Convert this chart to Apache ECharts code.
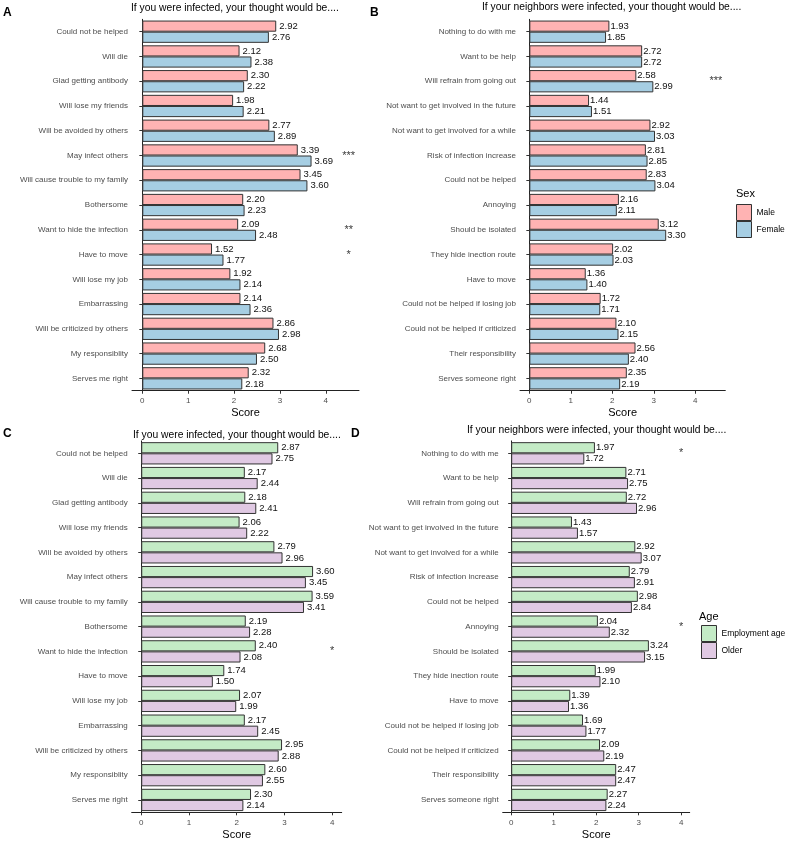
<!DOCTYPE html>
<html><head><meta charset="utf-8">
<script src="https://cdn.jsdelivr.net/npm/echarts@6/dist/echarts.min.js"></script>
<style>html,body{margin:0;padding:0;background:#fff}#c{width:786px;height:843px}</style>
</head><body><div id="c"></div>
<script>
const catsSelf = ['Could not be helped','Will die','Glad getting antibody','Will lose my friends','Will be avoided by others','May infect others','Will cause trouble to my family','Bothersome','Want to hide the infection','Have to move','Will lose my job','Embarrassing','Will be criticized by others','My responsiblity','Serves me right'];
const catsNeigh = ['Nothing to do with me','Want to be help','Will refrain from going out','Not want to get involved in the future','Not want to get involved for a while','Risk of infection increase','Could not be helped','Annoying','Should be isolated','They hide inection route','Have to move','Could not be helped if losing job','Could not be helped if criticized','Their responsibility','Serves someone right'];

const maleA   = [2.92,2.12,2.30,1.98,2.77,3.39,3.45,2.20,2.09,1.52,1.92,2.14,2.86,2.68,2.32];
const femaleA = [2.76,2.38,2.22,2.21,2.89,3.69,3.60,2.23,2.48,1.77,2.14,2.36,2.98,2.50,2.18];
const maleB   = [1.93,2.72,2.58,1.44,2.92,2.81,2.83,2.16,3.12,2.02,1.36,1.72,2.10,2.56,2.35];
const femaleB = [1.85,2.72,2.99,1.51,3.03,2.85,3.04,2.11,3.30,2.03,1.40,1.71,2.15,2.40,2.19];
const empC    = [2.87,2.17,2.18,2.06,2.79,3.60,3.59,2.19,2.40,1.74,2.07,2.17,2.95,2.60,2.30];
const olderC  = [2.75,2.44,2.41,2.22,2.96,3.45,3.41,2.28,2.08,1.50,1.99,2.45,2.88,2.55,2.14];
const empD    = [1.97,2.71,2.72,1.43,2.92,2.79,2.98,2.04,3.24,1.99,1.39,1.69,2.09,2.47,2.27];
const olderD  = [1.72,2.75,2.96,1.57,3.07,2.91,2.84,2.32,3.15,2.10,1.36,1.77,2.19,2.47,2.24];

const sigA = {cats:['May infect others','Want to hide the infection','Have to move'], marks:['***','**','*'], x:4.5};
const sigB = {cats:['Will refrain from going out'], marks:['***'], x:4.5};
const sigC = {cats:['Want to hide the infection'], marks:['*'], x:4};
const sigD = {cats:['Nothing to do with me','Annoying'], marks:['*','*'], x:4};

const xTicks = [0,1,2,3,4];
const titles = ['If you were infected, your thought would be....','If your neighbors were infected, your thought would be....'];

const FONT = 'Liberation Sans, Arial, sans-serif';
const colMale='#FFB3B3', colFemale='#A6CEE3', colEmp='#C4EBC6', colOld='#E0C9E3';
const band = 24.76, H = band*15;

const grids = [
  {left:132, top:31.7-band/2, width:227, height:H},
  {left:520, top:31.7-band/2, width:205.3, height:H},
  {left:131.7, top:453.3-band/2, width:210, height:H},
  {left:502.7, top:453.3-band/2, width:187, height:H}
];
const ranges = [[-0.225,4.725],[-0.225,4.725],[-0.2,4.2],[-0.2,4.2]];
const catList = [catsSelf, catsNeigh, catsSelf, catsNeigh];

const xAxes = grids.map((g,i)=>({
  type:'value', gridIndex:i, min:ranges[i][0], max:ranges[i][1],
  axisLine:{show:true, lineStyle:{color:'#222', width:1}},
  axisTick:{show:true, length:3, lineStyle:{color:'#333'}, customValues:xTicks},
  axisLabel:{color:'#4d4d4d', fontSize:8, fontFamily:FONT, margin:6, customValues:xTicks, formatter:v=>String(v)},
  splitLine:{show:false},
  name:'Score', nameLocation:'middle', nameGap:17,
  nameTextStyle:{color:'#000', fontSize:11, fontFamily:FONT}
}));
const yAxes = grids.map((g,i)=>({
  type:'category', gridIndex:i, data:catList[i], inverse:true,
  axisLine:{show:true, lineStyle:{color:'#222', width:1}},
  axisTick:{show:true, length:3, alignWithLabel:true, lineStyle:{color:'#333'}},
  axisLabel:{color:'#4d4d4d', fontSize:8, fontFamily:FONT, margin:4, interval:0}
}));

function barSeries(name, data, color, gi, dist){
  return {
    type:'bar', name, data, xAxisIndex:gi, yAxisIndex:gi,
    barGap:'0%', barCategoryGap:'10%',
    itemStyle:{color, borderColor:'#333', borderWidth:1},
    label:{show:true, position:'right', distance:dist, formatter:p=>p.value.toFixed(2),
      color:'#111', fontSize:9.5, fontFamily:FONT},
    emphasis:{disabled:true}, animation:false
  };
}
function sigSeries(sig, gi){
  return {
    type:'scatter', xAxisIndex:gi, yAxisIndex:gi, symbolSize:0,
    itemStyle:{color:'rgba(0,0,0,0)'},
    data: sig.cats.map((c,k)=>({value:[sig.x, c], mark:sig.marks[k]})),
    label:{show:true, position:'inside', formatter:p=>p.data.mark, color:'#000', fontSize:11, fontFamily:FONT},
    silent:true, animation:false
  };
}

const series = [
  barSeries('Male', maleA, colMale, 0, 3), barSeries('Female', femaleA, colFemale, 0, 3),
  barSeries('Male', maleB, colMale, 1, 1), barSeries('Female', femaleB, colFemale, 1, 1),
  barSeries('Employment age', empC, colEmp, 2, 3), barSeries('Older', olderC, colOld, 2, 3),
  barSeries('Employment age', empD, colEmp, 3, 1), barSeries('Older', olderD, colOld, 3, 1),
  sigSeries(sigA,0), sigSeries(sigB,1), sigSeries(sigC,2), sigSeries(sigD,3)
];

const titleStyle = {color:'#000', fontSize:10.3, fontWeight:'normal', fontFamily:FONT};
const letterStyle = {color:'#000', fontSize:12, fontWeight:'bold', fontFamily:FONT};

const option = {
  animation:false,
  grid: grids,
  xAxis: xAxes, yAxis: yAxes, series,
  title: [
    {text:titles[0], left:131, top:3.5, padding:0, textStyle:titleStyle},
    {text:titles[1], left:482, top:2.5, padding:0, textStyle:titleStyle},
    {text:titles[0], left:133, top:430.5, padding:0, textStyle:titleStyle},
    {text:titles[1], left:467, top:425.5, padding:0, textStyle:titleStyle},
    {text:'A', left:3, top:7, padding:0, textStyle:letterStyle},
    {text:'B', left:370, top:7, padding:0, textStyle:letterStyle},
    {text:'C', left:3, top:428, padding:0, textStyle:letterStyle},
    {text:'D', left:351, top:428, padding:0, textStyle:letterStyle},
    {text:'Sex', left:736, top:188, padding:0, textStyle:{color:'#000', fontSize:11, fontWeight:'normal', fontFamily:FONT}},
    {text:'Age', left:699, top:611, padding:0, textStyle:{color:'#000', fontSize:11, fontWeight:'normal', fontFamily:FONT}}
  ],
  legend: [
    {data:['Male','Female'], orient:'vertical', left:736, top:204, itemGap:0, itemWidth:15, itemHeight:16,
      padding:0, icon:'rect', selectedMode:false,
      itemStyle:{borderColor:'#333', borderWidth:1},
      textStyle:{color:'#000', fontSize:8.5, fontFamily:FONT}},
    {data:['Employment age','Older'], orient:'vertical', left:701, top:625, itemGap:0, itemWidth:15, itemHeight:16,
      padding:0, icon:'rect', selectedMode:false,
      itemStyle:{borderColor:'#333', borderWidth:1},
      textStyle:{color:'#000', fontSize:8.5, fontFamily:FONT}}
  ]
};
const chart = echarts.init(document.getElementById('c'), null, {renderer:'canvas'});
chart.setOption(option);
</script></body></html>
